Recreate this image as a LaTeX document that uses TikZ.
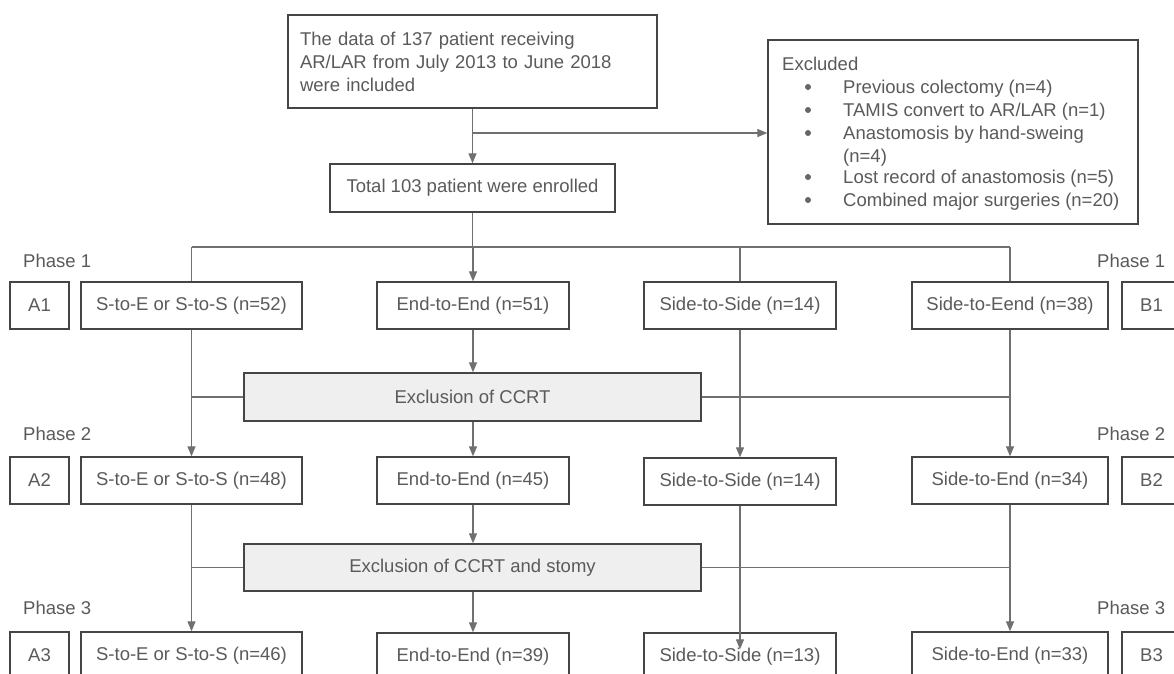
\documentclass[tikz,border=0pt]{standalone}
\usepackage{fontspec}
\setmainfont{Liberation Sans}
\usetikzlibrary{arrows.meta,calc}
\definecolor{txt}{HTML}{5A5A5A}
\definecolor{bord}{HTML}{454545}
\definecolor{conn}{HTML}{707070}
\definecolor{exfill}{HTML}{EFEFEF}
\definecolor{dot}{HTML}{666666}
\begin{document}
\begin{tikzpicture}[x=1pt,y=-1pt,
  every node/.style={font=\fontsize{18.5}{23}\selectfont, text=txt},
  stepbox/.style={draw=bord, line width=1.4pt, fill=white, inner sep=0pt, minimum height=47pt, align=center},
  exbox/.style={stepbox, fill=exfill, minimum width=457pt},
  lbl/.style={anchor=base west, inner sep=0pt},
  ln/.style={draw=conn, line width=1.3pt},
  arr/.style={ln, -{Triangle[length=10pt,width=8pt]}}]
\useasboundingbox (0,0) rectangle (1174,673);
\clip (0,0) rectangle (1174,673);
\fill[white] (0,0) rectangle (1174,673);

% top part
\node[stepbox, minimum width=369pt, minimum height=93pt, text width=345pt, align=left] (top) at (472.5,61.5)
  {The data of 137 patient receiving\\AR/LAR from July 2013 to June 2018\\were included};
\node[stepbox, minimum width=285pt, minimum height=48pt] (total) at (472.5,188) {Total 103 patient were enrolled};
\node[stepbox, minimum width=370pt, minimum height=184pt] (excl) at (953,132) {};
\node[lbl] (exh) at (782,70.6) {Excluded};
\foreach \yy/\tt [count=\i] in {93.6/{Previous colectomy (n=4)}, 116.6/{TAMIS convert to AR/LAR (n=1)}, 139.6/{Anastomosis by hand-sweing}, 162.6/{(n=4)}, 183.6/{Lost record of anastomosis (n=5)}, 206.6/{Combined major surgeries (n=20)}}
  {\node[lbl] (exi\i) at (843,\yy) {\tt};}
\foreach \yy in {87,110,133,177,200}
  {\fill[dot] (808,\yy) circle (3pt);}

\coordinate (j0) at (472.5,133);
\draw[arr] (top.south) -- (total.north);
\draw[arr] (j0) -- (j0 -| excl.west);

% phase labels
\foreach \n/\yy in {1/267.6, 2/440.6, 3/614.6}{
  \node[lbl] (pl\n) at (23,\yy) {Phase \n};
  \node[lbl] (pr\n) at (1097,\yy) {Phase \n};
}

% rows
\foreach \r/\yy in {1/305.5, 2/480.5, 3/655.5}{
  \node[stepbox, minimum width=59pt] (A\r) at (39.5,\yy) {A\r};
  \node[stepbox, minimum width=59pt] (B\r) at (1151.5,\yy) {B\r};
}
\node[stepbox, minimum width=221pt] (a1) at (191.5,305.5) {S-to-E or S-to-S (n=52)};
\node[stepbox, minimum width=192pt] (e1) at (473,305.5) {End-to-End (n=51)};
\node[stepbox, minimum width=192pt] (s1) at (740,305.5) {Side-to-Side (n=14)};
\node[stepbox, minimum width=196pt] (d1) at (1010,305.5) {Side-to-Eend (n=38)};

\node[stepbox, minimum width=221pt] (a2) at (191.5,480.5) {S-to-E or S-to-S (n=48)};
\node[stepbox, minimum width=192pt] (e2) at (473,480.5) {End-to-End (n=45)};
\node[stepbox, minimum width=192pt] (s2) at (740,481.5) {Side-to-Side (n=14)};
\node[stepbox, minimum width=196pt] (d2) at (1010,480.5) {Side-to-End (n=34)};

\node[stepbox, minimum width=221pt] (a3) at (191.5,655.5) {S-to-E or S-to-S (n=46)};
\node[stepbox, minimum width=192pt] (e3) at (473,656.5) {End-to-End (n=39)};
\node[stepbox, minimum width=192pt] (s3) at (740,656.5) {Side-to-Side (n=13)};
\node[stepbox, minimum width=196pt] (d3) at (1010,655.5) {Side-to-End (n=33)};

\node[exbox, minimum height=48pt] (x1) at (472.5,397) {Exclusion of CCRT};
\node[exbox, minimum height=47pt] (x2) at (472.5,567.5) {Exclusion of CCRT and stomy};

% distribution line
\coordinate (hb) at (472.5,247);
\draw[ln] (total.south) -- (hb);
\draw[ln] (a1.north |- hb) -- (d1.north |- hb);
\draw[ln] (a1.north |- hb) -- (a1.north);
\draw[arr] (e1.north |- hb) -- (e1.north);
\draw[ln] (s1.north |- hb) -- (s1.north);
\draw[ln] (d1.north |- hb) -- (d1.north);

% phase 1 -> 2
\draw[arr] (a1.south) -- (a2.north);
\draw[ln] (a1.south |- x1.west) -- (x1.west);
\draw[arr] (e1.south) -- (e1.south |- x1.north);
\draw[arr] (e2.north |- x1.south) -- (e2.north);
\draw[ln] (x1.east) -- (x1.east -| d1.south);
\draw[arr] (s1.south) -- (s2.north);
\draw[arr] (d1.south) -- (d2.north);

% phase 2 -> 3
\draw[arr] (a2.south) -- (a3.north);
\draw[ln] (a2.south |- x2.west) -- (x2.west);
\draw[arr] (e2.south) -- (e2.south |- x2.north);
\draw[arr] (e3.north |- x2.south) -- (e3.north);
\draw[ln] (x2.east) -- (x2.east -| d2.south);
\draw[arr] (s2.south) -- ($(s3.north)+(0,17)$);
\draw[arr] (d2.south) -- (d3.north);
\end{tikzpicture}
\end{document}
